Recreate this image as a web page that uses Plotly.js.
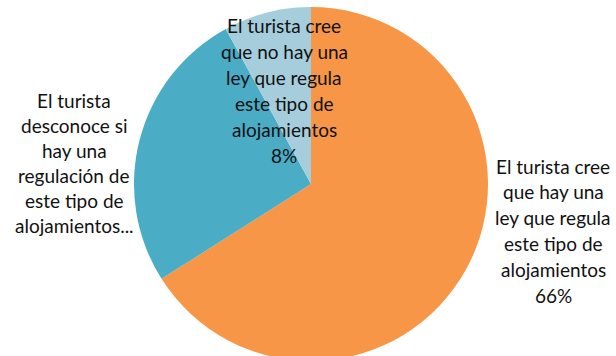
<!DOCTYPE html>
<html>
<head>
<meta charset="utf-8">
<script src="https://cdn.plot.ly/plotly-3.0.1.min.js"></script>
<style>
html,body{margin:0;padding:0;overflow:hidden;background:#fff;width:616px;height:356px;}
#chart{width:616px;height:368px;}
</style>
</head>
<body>
<div id="chart"></div>
<script>
// Data
const categories = [
  "El turista cree que hay una ley que regula este tipo de alojamientos",
  "El turista desconoce si hay una regulación de este tipo de alojamientos",
  "El turista cree que no hay una ley que regula este tipo de alojamientos"
];
const values = [66, 26, 8];
const colors = ["#F79646", "#4BACC6", "#A5CDDC"];

// Label lines as shown in the chart (text wraps)
const labelLines = [
  ["El turista cree", "que hay una", "ley que regula", "este tipo de", "alojamientos", "66%"],
  ["El turista", "desconoce si", "hay una", "regulación de", "este tipo de", "alojamientos..."],
  ["El turista cree", "que no hay una", "ley que regula", "este tipo de", "alojamientos", "8%"]
];
// label block layout (pixel centres)
const labelPos = [
  {x: 553, y0: 166, dy: 25.8},
  {x: 74, y0: 101, dy: 24.9},
  {x: 284, y0: 25, dy: 26}
];

const W = 616, H = 368;
const annotations = [];
labelLines.forEach((lines, i) => {
  const p = labelPos[i];
  lines.forEach((t, j) => {
    annotations.push({
      text: t, xref: 'paper', yref: 'paper',
      x: p.x / W, y: 1 - (p.y0 + j * p.dy) / H,
      xanchor: 'center', yanchor: 'middle', showarrow: false,
      font: {family: 'Lato, "Open Sans", sans-serif', size: 19, color: '#111'}
    });
  });
});

const data = [{
  type: 'pie',
  labels: categories,
  values: values,
  sort: false,
  direction: 'clockwise',
  rotation: 0,
  textinfo: 'none',
  hoverinfo: 'none',
  marker: {colors: colors, line: {width: 0}},
  domain: {x: [134 / W, 488 / W], y: [1 - 361 / H, 1 - 7 / H]}
}];

const layout = {
  width: W, height: H,
  margin: {l: 0, r: 0, t: 0, b: 0},
  showlegend: false,
  paper_bgcolor: '#fff',
  annotations: annotations
};

Plotly.newPlot('chart', data, layout, {displayModeBar: false, staticPlot: true});
</script>
</body>
</html>
